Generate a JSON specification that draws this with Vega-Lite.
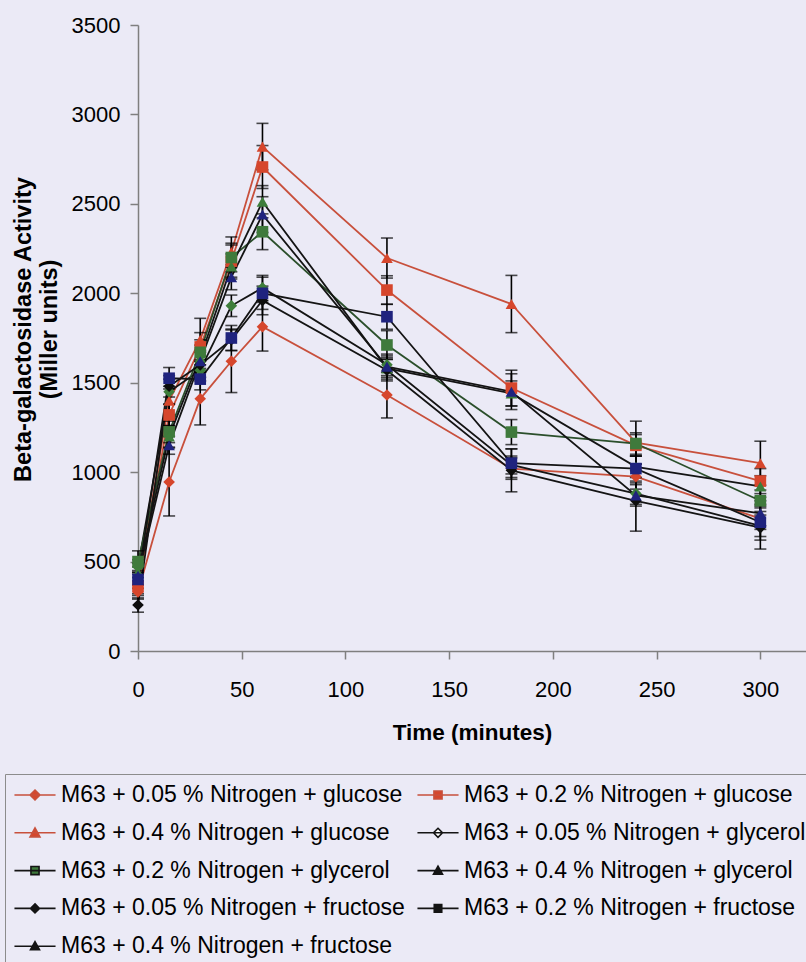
{
  "$schema": "https://vega.github.io/schema/vega-lite/v6.json",
  "width": 668,
  "height": 626,
  "autosize": {"type": "none"},
  "padding": {"left": 138, "top": 25, "right": 0, "bottom": 311},
  "background": "#ebeaf6",
  "config": {
    "font": "Liberation Sans",
    "view": {"stroke": null},
    "axis": {
      "domainColor": "#7f7f7f",
      "tickColor": "#7f7f7f",
      "domainWidth": 1.5,
      "tickWidth": 1.5,
      "tickSize": 8,
      "labelColor": "#000000",
      "labelFontSize": 22,
      "titleColor": "#000000",
      "grid": false
    }
  },
  "datasets": {
    "activity": [
      {"s": "M63 + 0.05 % Nitrogen + glucose", "t": 0, "v": 330, "e": 40},
      {"s": "M63 + 0.05 % Nitrogen + glucose", "t": 15, "v": 945, "e": 190},
      {"s": "M63 + 0.05 % Nitrogen + glucose", "t": 30, "v": 1410, "e": 146},
      {"s": "M63 + 0.05 % Nitrogen + glucose", "t": 45, "v": 1620, "e": 175},
      {"s": "M63 + 0.05 % Nitrogen + glucose", "t": 60, "v": 1813, "e": 136},
      {"s": "M63 + 0.05 % Nitrogen + glucose", "t": 120, "v": 1431, "e": 128},
      {"s": "M63 + 0.05 % Nitrogen + glucose", "t": 180, "v": 1020, "e": 60},
      {"s": "M63 + 0.05 % Nitrogen + glucose", "t": 240, "v": 975, "e": 70},
      {"s": "M63 + 0.05 % Nitrogen + glucose", "t": 300, "v": 740, "e": 60},

      {"s": "M63 + 0.2 % Nitrogen + glucose", "t": 0, "v": 360, "e": 50},
      {"s": "M63 + 0.2 % Nitrogen + glucose", "t": 15, "v": 1320, "e": 60},
      {"s": "M63 + 0.2 % Nitrogen + glucose", "t": 30, "v": 1700, "e": 80},
      {"s": "M63 + 0.2 % Nitrogen + glucose", "t": 45, "v": 2180, "e": 90},
      {"s": "M63 + 0.2 % Nitrogen + glucose", "t": 60, "v": 2706, "e": 120},
      {"s": "M63 + 0.2 % Nitrogen + glucose", "t": 120, "v": 2018, "e": 80},
      {"s": "M63 + 0.2 % Nitrogen + glucose", "t": 180, "v": 1470, "e": 100},
      {"s": "M63 + 0.2 % Nitrogen + glucose", "t": 240, "v": 1150, "e": 60},
      {"s": "M63 + 0.2 % Nitrogen + glucose", "t": 300, "v": 950, "e": 70},

      {"s": "M63 + 0.4 % Nitrogen + glucose", "t": 0, "v": 380, "e": 60},
      {"s": "M63 + 0.4 % Nitrogen + glucose", "t": 15, "v": 1400, "e": 80},
      {"s": "M63 + 0.4 % Nitrogen + glucose", "t": 30, "v": 1740, "e": 120},
      {"s": "M63 + 0.4 % Nitrogen + glucose", "t": 45, "v": 2230, "e": 85},
      {"s": "M63 + 0.4 % Nitrogen + glucose", "t": 60, "v": 2820, "e": 130},
      {"s": "M63 + 0.4 % Nitrogen + glucose", "t": 120, "v": 2197, "e": 112},
      {"s": "M63 + 0.4 % Nitrogen + glucose", "t": 180, "v": 1940, "e": 160},
      {"s": "M63 + 0.4 % Nitrogen + glucose", "t": 240, "v": 1165, "e": 120},
      {"s": "M63 + 0.4 % Nitrogen + glucose", "t": 300, "v": 1050, "e": 123},

      {"s": "M63 + 0.05 % Nitrogen + glycerol", "t": 0, "v": 470, "e": 40},
      {"s": "M63 + 0.05 % Nitrogen + glycerol", "t": 15, "v": 1450, "e": 70},
      {"s": "M63 + 0.05 % Nitrogen + glycerol", "t": 30, "v": 1570, "e": 60},
      {"s": "M63 + 0.05 % Nitrogen + glycerol", "t": 45, "v": 1930, "e": 60},
      {"s": "M63 + 0.05 % Nitrogen + glycerol", "t": 60, "v": 2030, "e": 70},
      {"s": "M63 + 0.05 % Nitrogen + glycerol", "t": 120, "v": 1600, "e": 60},
      {"s": "M63 + 0.05 % Nitrogen + glycerol", "t": 180, "v": 1040, "e": 50},
      {"s": "M63 + 0.05 % Nitrogen + glycerol", "t": 240, "v": 880, "e": 60},
      {"s": "M63 + 0.05 % Nitrogen + glycerol", "t": 300, "v": 700, "e": 60},

      {"s": "M63 + 0.2 % Nitrogen + glycerol", "t": 0, "v": 500, "e": 60},
      {"s": "M63 + 0.2 % Nitrogen + glycerol", "t": 15, "v": 1225, "e": 60},
      {"s": "M63 + 0.2 % Nitrogen + glycerol", "t": 30, "v": 1670, "e": 70},
      {"s": "M63 + 0.2 % Nitrogen + glycerol", "t": 45, "v": 2200, "e": 80},
      {"s": "M63 + 0.2 % Nitrogen + glycerol", "t": 60, "v": 2344, "e": 100},
      {"s": "M63 + 0.2 % Nitrogen + glycerol", "t": 120, "v": 1711, "e": 80},
      {"s": "M63 + 0.2 % Nitrogen + glycerol", "t": 180, "v": 1224, "e": 70},
      {"s": "M63 + 0.2 % Nitrogen + glycerol", "t": 240, "v": 1160, "e": 60},
      {"s": "M63 + 0.2 % Nitrogen + glycerol", "t": 300, "v": 840, "e": 60},

      {"s": "M63 + 0.4 % Nitrogen + glycerol", "t": 0, "v": 440, "e": 50},
      {"s": "M63 + 0.4 % Nitrogen + glycerol", "t": 15, "v": 1200, "e": 60},
      {"s": "M63 + 0.4 % Nitrogen + glycerol", "t": 30, "v": 1640, "e": 70},
      {"s": "M63 + 0.4 % Nitrogen + glycerol", "t": 45, "v": 2150, "e": 70},
      {"s": "M63 + 0.4 % Nitrogen + glycerol", "t": 60, "v": 2512, "e": 90},
      {"s": "M63 + 0.4 % Nitrogen + glycerol", "t": 120, "v": 1580, "e": 60},
      {"s": "M63 + 0.4 % Nitrogen + glycerol", "t": 180, "v": 1440, "e": 70},
      {"s": "M63 + 0.4 % Nitrogen + glycerol", "t": 240, "v": 1030, "e": 60},
      {"s": "M63 + 0.4 % Nitrogen + glycerol", "t": 300, "v": 920, "e": 60},

      {"s": "M63 + 0.05 % Nitrogen + fructose", "t": 0, "v": 257, "e": 40},
      {"s": "M63 + 0.05 % Nitrogen + fructose", "t": 15, "v": 1480, "e": 60},
      {"s": "M63 + 0.05 % Nitrogen + fructose", "t": 30, "v": 1600, "e": 70},
      {"s": "M63 + 0.05 % Nitrogen + fructose", "t": 45, "v": 1740, "e": 60},
      {"s": "M63 + 0.05 % Nitrogen + fructose", "t": 60, "v": 1960, "e": 80},
      {"s": "M63 + 0.05 % Nitrogen + fructose", "t": 120, "v": 1570, "e": 60},
      {"s": "M63 + 0.05 % Nitrogen + fructose", "t": 180, "v": 1010, "e": 120},
      {"s": "M63 + 0.05 % Nitrogen + fructose", "t": 240, "v": 840, "e": 170},
      {"s": "M63 + 0.05 % Nitrogen + fructose", "t": 300, "v": 690, "e": 120},

      {"s": "M63 + 0.2 % Nitrogen + fructose", "t": 0, "v": 400, "e": 50},
      {"s": "M63 + 0.2 % Nitrogen + fructose", "t": 15, "v": 1525, "e": 60},
      {"s": "M63 + 0.2 % Nitrogen + fructose", "t": 30, "v": 1520, "e": 60},
      {"s": "M63 + 0.2 % Nitrogen + fructose", "t": 45, "v": 1750, "e": 70},
      {"s": "M63 + 0.2 % Nitrogen + fructose", "t": 60, "v": 2000, "e": 90},
      {"s": "M63 + 0.2 % Nitrogen + fructose", "t": 120, "v": 1869, "e": 70},
      {"s": "M63 + 0.2 % Nitrogen + fructose", "t": 180, "v": 1050, "e": 80},
      {"s": "M63 + 0.2 % Nitrogen + fructose", "t": 240, "v": 1020, "e": 70},
      {"s": "M63 + 0.2 % Nitrogen + fructose", "t": 300, "v": 720, "e": 100},

      {"s": "M63 + 0.4 % Nitrogen + fructose", "t": 0, "v": 420, "e": 50},
      {"s": "M63 + 0.4 % Nitrogen + fructose", "t": 15, "v": 1150, "e": 50},
      {"s": "M63 + 0.4 % Nitrogen + fructose", "t": 30, "v": 1620, "e": 60},
      {"s": "M63 + 0.4 % Nitrogen + fructose", "t": 45, "v": 2090, "e": 70},
      {"s": "M63 + 0.4 % Nitrogen + fructose", "t": 60, "v": 2440, "e": 100},
      {"s": "M63 + 0.4 % Nitrogen + fructose", "t": 120, "v": 1590, "e": 60},
      {"s": "M63 + 0.4 % Nitrogen + fructose", "t": 180, "v": 1450, "e": 100},
      {"s": "M63 + 0.4 % Nitrogen + fructose", "t": 240, "v": 870, "e": 60},
      {"s": "M63 + 0.4 % Nitrogen + fructose", "t": 300, "v": 770, "e": 70}
    ]
  },
  "data": {"name": "activity"},
  "encoding": {
    "x": {
      "field": "t",
      "type": "quantitative",
      "scale": {"domain": [0, 322], "nice": false, "zero": false},
      "axis": {
        "values": [0, 50, 100, 150, 200, 250, 300],
        "title": "Time (minutes)",
        "titleFontSize": 22.5,
        "titleFontWeight": "bold",
        "labelPadding": 20,
        "titlePadding": 21,
        "labelFlush": false
      }
    },
    "y": {
      "field": "v",
      "type": "quantitative",
      "scale": {"domain": [0, 3500], "nice": false},
      "axis": {
        "values": [0, 500, 1000, 1500, 2000, 2500, 3000, 3500],
        "format": "d",
        "title": ["Beta-galactosidase Activity", "(Miller units)"],
        "titleFontSize": 23.5,
        "titleFontWeight": "bold",
        "titleY": 304,
        "labelPadding": 10,
        "titlePadding": 10
      }
    }
  },
  "layer": [
    {
      "mark": {"type": "line", "strokeWidth": 1.8},
      "encoding": {
        "stroke": {
          "field": "s",
          "type": "nominal",
          "legend": null,
          "scale": {
            "domain": ["M63 + 0.05 % Nitrogen + glucose", "M63 + 0.2 % Nitrogen + glucose", "M63 + 0.4 % Nitrogen + glucose", "M63 + 0.05 % Nitrogen + glycerol", "M63 + 0.2 % Nitrogen + glycerol", "M63 + 0.4 % Nitrogen + glycerol", "M63 + 0.05 % Nitrogen + fructose", "M63 + 0.2 % Nitrogen + fructose", "M63 + 0.4 % Nitrogen + fructose"],
            "range": ["#c8503c", "#c8503c", "#c8503c", "#141414", "#2b4f2b", "#141414", "#141414", "#141414", "#141414"]
          }
        }
      }
    },
    {
      "mark": {
        "type": "errorbar",
        "ticks": {"size": 12, "color": "#000000", "thickness": 1.6},
        "rule": {"color": "#000000", "strokeWidth": 1.6}
      },
      "encoding": {
        "y": {"field": "v", "type": "quantitative"},
        "yError": {"field": "e"},
        "detail": {"field": "s", "type": "nominal"}
      }
    },
    {
      "mark": {"type": "point", "filled": true, "opacity": 1, "size": 135},
      "encoding": {
        "shape": {
          "field": "s",
          "type": "nominal",
          "legend": null,
          "scale": {
            "domain": ["M63 + 0.05 % Nitrogen + glucose", "M63 + 0.2 % Nitrogen + glucose", "M63 + 0.4 % Nitrogen + glucose", "M63 + 0.05 % Nitrogen + glycerol", "M63 + 0.2 % Nitrogen + glycerol", "M63 + 0.4 % Nitrogen + glycerol", "M63 + 0.05 % Nitrogen + fructose", "M63 + 0.2 % Nitrogen + fructose", "M63 + 0.4 % Nitrogen + fructose"],
            "range": ["diamond", "square", "triangle-up", "diamond", "square", "triangle-up", "diamond", "square", "triangle-up"]
          }
        },
        "fill": {
          "field": "s",
          "type": "nominal",
          "legend": null,
          "scale": {
            "domain": ["M63 + 0.05 % Nitrogen + glucose", "M63 + 0.2 % Nitrogen + glucose", "M63 + 0.4 % Nitrogen + glucose", "M63 + 0.05 % Nitrogen + glycerol", "M63 + 0.2 % Nitrogen + glycerol", "M63 + 0.4 % Nitrogen + glycerol", "M63 + 0.05 % Nitrogen + fructose", "M63 + 0.2 % Nitrogen + fructose", "M63 + 0.4 % Nitrogen + fructose"],
            "range": ["#d6462c", "#d6462c", "#d6462c", "#3d7d3a", "#3f7a3c", "#3d7d3a", "#0d0d0d", "#1f237e", "#1f237e"]
          }
        }
      }
    },
    {
      "mark": {"type": "point", "opacity": 0, "strokeWidth": 1.6},
      "encoding": {
        "shape": {
          "field": "s",
          "type": "nominal",
          "title": null,
          "scale": {
            "domain": ["M63 + 0.05 % Nitrogen + glucose", "M63 + 0.2 % Nitrogen + glucose", "M63 + 0.4 % Nitrogen + glucose", "M63 + 0.05 % Nitrogen + glycerol", "M63 + 0.2 % Nitrogen + glycerol", "M63 + 0.4 % Nitrogen + glycerol", "M63 + 0.05 % Nitrogen + fructose", "M63 + 0.2 % Nitrogen + fructose", "M63 + 0.4 % Nitrogen + fructose"],
            "range": [
              "M-1.37,0H1.37M0,-0.33L0.33,0L0,0.33L-0.33,0Z",
              "M-1.37,0H1.37M-0.27,-0.27H0.27V0.27H-0.27Z",
              "M-1.37,0H1.37M0,-0.33L0.33,0.27H-0.33Z",
              "M-1.37,0H1.37M0,-0.3L0.3,0L0,0.3L-0.3,0Z",
              "M-1.37,0H1.37M-0.27,-0.27H0.27V0.27H-0.27Z",
              "M-1.37,0H1.37M0,-0.3L0.3,0.24H-0.3Z",
              "M-1.37,0H1.37M0,-0.3L0.3,0L0,0.3L-0.3,0Z",
              "M-1.37,0H1.37M-0.25,-0.25H0.25V0.25H-0.25Z",
              "M-1.37,0H1.37M0,-0.3L0.3,0.24H-0.3Z"
            ]
          },
          "legend": {
            "orient": "none",
            "legendX": -133,
            "legendY": 749,
            "columns": 2,
            "direction": "horizontal",
            "padding": 5,
            "strokeColor": "#8c8c8c",
            "fillColor": "#ebeaf6",
            "labelFontSize": 23,
            "labelColor": "#000000",
            "labelLimit": 1000,
            "labelOffset": 10,
            "symbolSize": 900,
            "symbolStrokeWidth": 1.6,
            "symbolOpacity": 1,
            "symbolOffset": 9,
            "rowPadding": 9.8,
            "columnPadding": 8
          }
        },
        "fill": {
          "field": "s",
          "type": "nominal",
          "title": null,
          "scale": {
            "domain": ["M63 + 0.05 % Nitrogen + glucose", "M63 + 0.2 % Nitrogen + glucose", "M63 + 0.4 % Nitrogen + glucose", "M63 + 0.05 % Nitrogen + glycerol", "M63 + 0.2 % Nitrogen + glycerol", "M63 + 0.4 % Nitrogen + glycerol", "M63 + 0.05 % Nitrogen + fructose", "M63 + 0.2 % Nitrogen + fructose", "M63 + 0.4 % Nitrogen + fructose"],
            "range": ["#d6462c", "#d6462c", "#d6462c", "#ffffff", "#3f7a3c", "#141414", "#141414", "#141414", "#141414"]
          }
        },
        "stroke": {
          "field": "s",
          "type": "nominal",
          "title": null,
          "scale": {
            "domain": ["M63 + 0.05 % Nitrogen + glucose", "M63 + 0.2 % Nitrogen + glucose", "M63 + 0.4 % Nitrogen + glucose", "M63 + 0.05 % Nitrogen + glycerol", "M63 + 0.2 % Nitrogen + glycerol", "M63 + 0.4 % Nitrogen + glycerol", "M63 + 0.05 % Nitrogen + fructose", "M63 + 0.2 % Nitrogen + fructose", "M63 + 0.4 % Nitrogen + fructose"],
            "range": ["#c8503c", "#c8503c", "#c8503c", "#141414", "#141414", "#141414", "#141414", "#141414", "#141414"]
          }
        }
      }
    }
  ],
  "resolve": {"scale": {"shape": "independent", "fill": "independent", "stroke": "independent"}}
}
